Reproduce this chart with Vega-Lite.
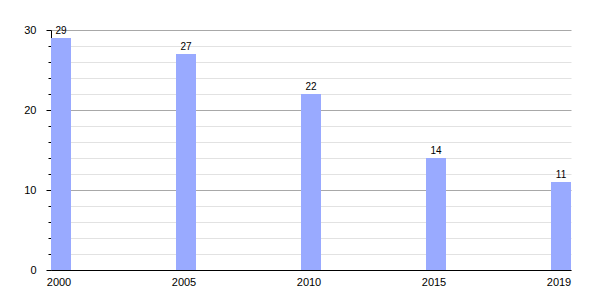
{
  "$schema": "https://vega.github.io/schema/vega-lite/v6.json",
  "width": 520,
  "height": 240,
  "autosize": {"type": "none"},
  "padding": {"left": 51, "top": 30, "right": 29, "bottom": 30},
  "background": "white",
  "config": {
    "view": {"stroke": null},
    "font": "Liberation Sans"
  },
  "data": {
    "values": [
      {"year": "2000", "value": 29},
      {"year": "2005", "value": 27},
      {"year": "2010", "value": 22},
      {"year": "2015", "value": 14},
      {"year": "2019", "value": 11}
    ]
  },
  "encoding": {
    "x": {
      "field": "year",
      "type": "ordinal",
      "sort": null,
      "scale": {"type": "band", "paddingInner": 0.84, "paddingOuter": 0},
      "axis": {
        "title": null,
        "labelAngle": 0,
        "ticks": false,
        "domainColor": "#000000",
        "domainWidth": 1,
        "labelPadding": 6,
        "labelOffset": -2,
        "labelFontSize": 11,
        "labelColor": "#000000"
      }
    },
    "y": {
      "field": "value",
      "type": "quantitative",
      "scale": {"domain": [0, 30], "nice": false},
      "axis": {
        "title": null,
        "values": [0, 2, 4, 6, 8, 10, 12, 14, 16, 18, 20, 22, 24, 26, 28, 30],
        "labelExpr": "datum.value % 10 === 0 ? datum.label : ''",
        "gridColor": {"condition": {"test": "datum.value % 10 === 0", "value": "#a8a8a8"}, "value": "#e2e2e2"},
        "tickSize": {"condition": {"test": "datum.value % 10 === 0", "value": 5}, "value": 3},
        "tickColor": "#000000",
        "domainColor": "#000000",
        "labelFontSize": 11,
        "labelColor": "#000000",
        "labelPadding": 10
      }
    }
  },
  "layer": [
    {"mark": {"type": "bar", "color": "#99aaff"}},
    {
      "mark": {"type": "text", "baseline": "bottom", "dy": -2, "fontSize": 10, "color": "#000000"},
      "encoding": {"text": {"field": "value", "type": "quantitative"}}
    }
  ]
}
